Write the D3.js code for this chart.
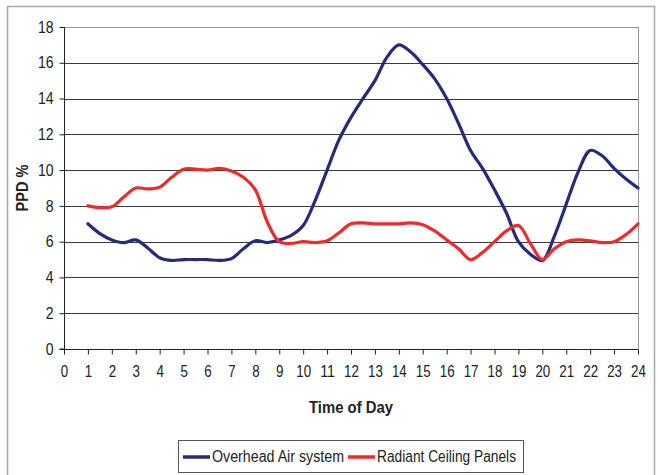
<!DOCTYPE html>
<html><head><meta charset="utf-8">
<script src="https://cdn.jsdelivr.net/npm/d3@7"></script>
<style>
html,body{margin:0;padding:0;background:#fff;}
svg text{font-family:"Liberation Sans",Arial,sans-serif;fill:#222;}
</style></head>
<body>
<svg id="chart" width="658" height="475"></svg>
<script>
// ---- data ----
const hours = [1,1.5,2,2.5,3,3.5,4,4.5,5,5.5,6,6.5,7,7.5,8,8.5,9,9.5,10,10.5,11,11.5,12,12.5,13,13.5,14,14.5,15,15.5,16,16.5,17,17.5,18,18.5,19,19.5,20,20.5,21,21.5,22,22.5,23,23.5,24];
const overheadAir = [7.0,6.45,6.1,5.95,6.1,5.65,5.1,4.95,5.0,5.0,5.0,4.95,5.05,5.6,6.05,5.95,6.1,6.35,6.9,8.3,10.0,11.7,12.95,14.0,15.0,16.3,17.0,16.6,15.9,15.1,14.0,12.6,11.1,10.1,8.9,7.6,6.0,5.3,4.95,6.3,8.1,9.9,11.1,10.8,10.1,9.5,9.0];
const radiantPanels = [8.0,7.9,7.95,8.5,9.0,8.95,9.05,9.6,10.05,10.05,10.0,10.1,9.95,9.6,8.9,7.1,6.0,5.9,6.0,5.95,6.05,6.5,7.0,7.05,7.0,7.0,7.0,7.05,6.95,6.6,6.1,5.6,5.0,5.4,6.0,6.6,6.9,5.9,5.0,5.6,6.0,6.1,6.05,5.95,6.0,6.4,7.0];
const seriesNames = ["Overhead Air system","Radiant Ceiling Panels"];
const seriesColors = ["#262a7c","#ee2b2b"];
const xTicks = d3.range(0,25,1);
const yTicks = d3.range(0,19,2);
const xTitle = "Time of Day";
const yTitle = "PPD %";

// ---- layout ----
const svg = d3.select("#chart");
const L = 64, R = 638, T = 27, B = 349;
const x = d3.scaleLinear().domain([0,24]).range([L,R]);
const y = d3.scaleLinear().domain([0,18]).range([B,T]);
const narrow = (sel, perChar) => sel.attr("lengthAdjust","spacingAndGlyphs")
  .attr("textLength", function(){ return this.textContent.length*perChar; });

// outer frame
svg.append("rect").attr("x",7.5).attr("y",6.5).attr("width",647).attr("height",480)
  .attr("fill","none").attr("stroke","#a8a8a8").attr("stroke-width",1.5);

// plot border top/right
svg.append("line").attr("x1",L).attr("x2",R+0.5).attr("y1",T+0.5).attr("y2",T+0.5).attr("stroke","#999");
svg.append("line").attr("x1",R+0.5).attr("x2",R+0.5).attr("y1",T).attr("y2",B).attr("stroke","#999");

// gridlines
svg.append("g").selectAll("line").data(yTicks.filter(d=>d>0 && d<18)).join("line")
  .attr("x1",L).attr("x2",R).attr("y1",d=>Math.round(y(d))+0.5).attr("y2",d=>Math.round(y(d))+0.5)
  .attr("stroke","#3a3a3a").attr("stroke-width",1);

// axes
const yAxis = d3.axisLeft(y).tickValues(yTicks).tickSize(5).tickPadding(6).tickFormat(d3.format("d"));
const gy = svg.append("g").attr("transform",`translate(${L+0.5},0)`).call(yAxis);
gy.selectAll("text").attr("font-size","16px").attr("fill","#222").call(narrow,7.8);
gy.selectAll("line,path").attr("stroke","#222");

const xAxis = d3.axisBottom(x).tickValues(xTicks).tickSize(5).tickPadding(11).tickFormat(d3.format("d"));
const gx = svg.append("g").attr("transform",`translate(0,${B+0.5})`).call(xAxis);
gx.selectAll("text").attr("font-size","16px").attr("fill","#222").call(narrow,7.4);
gx.selectAll("line,path").attr("stroke","#222");
gx.select("path.domain").attr("d",`M${L},0H${R+0.5}`);
gy.select("path.domain").attr("d",`M-5,${B}H0V${T}`);

// lines
const line = d3.line().x(d=>x(d[0])).y(d=>y(d[1])).curve(d3.curveCatmullRom.alpha(0.5));
[overheadAir, radiantPanels].forEach((vals,i)=>{
  svg.append("path").datum(hours.map((h,j)=>[h,vals[j]]))
    .attr("d",line).attr("fill","none").attr("stroke",seriesColors[i])
    .attr("stroke-width",3.2).attr("stroke-linejoin","round").attr("stroke-linecap","round");
});

// titles
svg.append("text").attr("x",(L+R)/2).attr("y",413).attr("text-anchor","middle")
  .attr("font-size","16px").attr("font-weight","bold").text(xTitle)
  .attr("lengthAdjust","spacingAndGlyphs").attr("textLength",84);
svg.append("text").attr("transform",`translate(28,188) rotate(-90)`).attr("text-anchor","middle")
  .attr("font-size","16px").attr("font-weight","bold").text(yTitle)
  .attr("lengthAdjust","spacingAndGlyphs").attr("textLength",47);

// legend
const lg = svg.append("g");
lg.append("rect").attr("x",178.5).attr("y",440.5).attr("width",345).attr("height",32)
  .attr("fill","#fff").attr("stroke","#555").attr("stroke-width",1);
const lx = [183,348];
const lw = [132,139];
seriesNames.forEach((n,i)=>{
  lg.append("line").attr("x1",lx[i]).attr("x2",lx[i]+27).attr("y1",457).attr("y2",457)
    .attr("stroke",seriesColors[i]).attr("stroke-width",3.5);
  lg.append("text").attr("x",lx[i]+29).attr("y",462).attr("font-size","16px").text(n)
    .attr("lengthAdjust","spacingAndGlyphs").attr("textLength",lw[i]);
});
</script>
</body></html>
